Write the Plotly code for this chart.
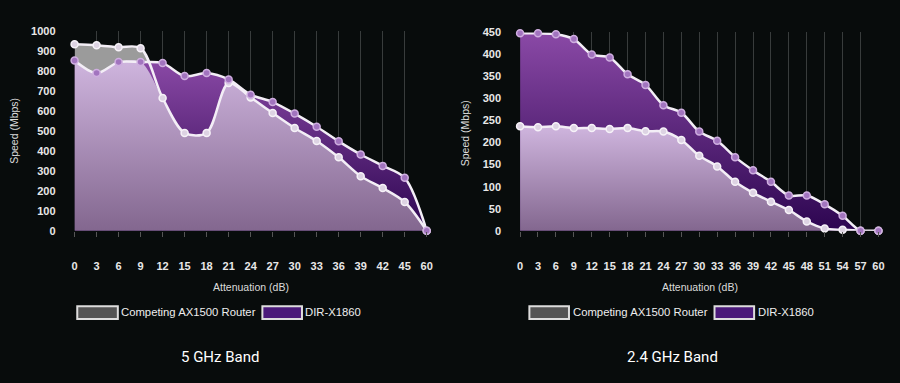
import numpy as np
import plotly.graph_objects as go

# ---------------- data ----------------
x5_labels = ["0", "3", "6", "9", "12", "15", "18", "21", "24", "27", "30", "33", "36", "39", "42", "45", "60"]
comp_5 = [935, 930, 920, 915, 665, 490, 490, 740, 668, 590, 515, 450, 368, 273, 214, 144, 0]
dir_5 = [853, 790, 845, 845, 840, 775, 790, 758, 682, 645, 587, 521, 448, 382, 325, 265, 0]

x24_labels = [str(v) for v in range(0, 61, 3)]
comp_24 = [237, 235, 237, 233, 233, 231, 233, 226, 225, 206, 170, 146, 111, 86, 66, 47, 21, 5, 2, 0, 0]
dir_24 = [448, 448, 446, 435, 400, 393, 355, 331, 285, 268, 225, 204, 167, 137, 111, 80, 80, 60, 34, 0, 0]

series_names = ["Competing AX1500 Router", "DIR-X1860"]
y5_ticks = list(range(0, 1001, 100))
y24_ticks = list(range(0, 451, 50))

# ---------------- style ----------------
BG = "#080c0c"
GRAY_FILL = "#9b9b9b"
PURPLE_SCALE = [[0, "#2c0550"], [1, "#8a49a6"]]
LAV_SCALE = [[0, "#83678f"], [1, "#cfb5de"]]
LINE = "#f3eef6"
SMOOTH = 0.9
H = 383.0


def py(px):
    return 1 - px / H


fig = go.Figure()


def add_chart(xlabels, comp, dirv, xa, ya):
    comp = np.array(comp, dtype=float)
    dirv = np.array(dirv, dtype=float)
    low = np.minimum(comp, dirv)
    common = dict(x=xlabels, xaxis=xa, yaxis=ya, mode="lines", showlegend=False,
                  hoverinfo="skip", line=dict(width=0, shape="spline", smoothing=SMOOTH))
    fig.add_trace(go.Scatter(y=comp, fill="tozeroy", fillcolor=GRAY_FILL, **common))
    fig.add_trace(go.Scatter(y=dirv, fill="tozeroy",
                             fillgradient=dict(type="vertical", colorscale=PURPLE_SCALE), **common))
    fig.add_trace(go.Scatter(y=low, fill="tozeroy",
                             fillgradient=dict(type="vertical", colorscale=LAV_SCALE), **common))
    fig.add_trace(go.Scatter(x=xlabels, y=comp, xaxis=xa, yaxis=ya, mode="lines+markers",
                             name=series_names[0], showlegend=False, cliponaxis=False,
                             line=dict(color=LINE, width=2.5, shape="spline", smoothing=SMOOTH),
                             marker=dict(size=7, color="#ddd3e3", line=dict(color="#f6f2f8", width=1.5))))
    fig.add_trace(go.Scatter(x=xlabels, y=dirv, xaxis=xa, yaxis=ya, mode="lines+markers",
                             name=series_names[1], showlegend=False, cliponaxis=False,
                             line=dict(color=LINE, width=2.5, shape="spline", smoothing=SMOOTH),
                             marker=dict(size=7, color="#a274bf", line=dict(color="#cfaee0", width=1.5))))


add_chart(x5_labels, comp_5, dir_5, "x", "y")
add_chart(x24_labels, comp_24, dir_24, "x2", "y2")

tickfont = dict(family="Liberation Sans, Arial, sans-serif", size=11, color="#e8e8e8", weight="bold")
xcommon = dict(type="category", showgrid=True, gridcolor="#383c3c", gridwidth=1, zeroline=False,
               ticks="outside", ticklen=5, tickcolor="#555", tickwidth=1, showline=False,
               tickfont=tickfont, ticklabelstandoff=20, fixedrange=True)
ycommon = dict(showgrid=False, zeroline=False, showline=False, ticks="", tickfont=tickfont,
               ticklabelstandoff=18, fixedrange=True)

fig.update_layout(
    width=900, height=383,
    margin=dict(l=0, r=0, t=0, b=0),
    paper_bgcolor=BG, plot_bgcolor=BG,
    showlegend=False,
    xaxis=dict(domain=[72.3 / 900, 428 / 900], range=[0, len(x5_labels) - 1],
               anchor="y", **xcommon),
    yaxis=dict(domain=[py(232), py(26)], range=[0, 1000], tickvals=y5_ticks,
               anchor="x", **ycommon),
    xaxis2=dict(domain=[522.3 / 900, 884.3 / 900], range=[0, len(x24_labels) - 1],
                anchor="y2", **xcommon),
    yaxis2=dict(domain=[py(232), py(27.3)], range=[0, 450], tickvals=y24_ticks,
                anchor="x2", **ycommon),
)

ann_font = dict(family="Liberation Sans, Arial, sans-serif", size=10.5, color="#dcdcdc")
leg_font = dict(family="Liberation Sans, Arial, sans-serif", size=11.3, color="#eeeeee")
title_font = dict(family="Roboto, sans-serif", size=15, color="#ffffff")

annotations = []
shapes = []
charts = [
    dict(xc=250, ylab=(11, 129), sub="5 GHz Band", subx=219,
         boxes=[(75, 116, 117), (262, 302, 303)]),
    dict(xc=704, ylab=(467, 131), sub="2.4 GHz Band", subx=676,
         boxes=[(531.7, 571.7, 573.5), (718.7, 758.7, 760.3)]),
]
fills = ["#545454", "#4b1a7a"]
for c in charts:
    annotations.append(dict(text="Attenuation (dB)", x=c["xc"] / 900, y=py(290), xref="paper", yref="paper",
                            showarrow=False, font=ann_font, xanchor="center", yanchor="middle"))
    annotations.append(dict(text="Speed (Mbps)", x=c["ylab"][0] / 900, y=py(c["ylab"][1]), xref="paper",
                            yref="paper", showarrow=False, font=ann_font, textangle=-90,
                            xanchor="center", yanchor="middle"))
    annotations.append(dict(text=c["sub"], x=c["subx"] / 900, y=py(362), xref="paper", yref="paper",
                            showarrow=False, font=title_font, xanchor="center", yanchor="middle"))
    for (x0, x1, tx), name, fc in zip(c["boxes"], series_names, fills):
        shapes.append(dict(type="rect", xref="paper", yref="paper", x0=x0 / 900, x1=x1 / 900,
                           y0=py(323), y1=py(310), fillcolor=fc, line=dict(color="#dddddd", width=2)))
        annotations.append(dict(text=name, x=tx / 900, y=py(316), xref="paper", yref="paper",
                                showarrow=False, font=leg_font, xanchor="left", yanchor="middle"))

fig.update_layout(annotations=annotations, shapes=shapes)
fig.write_html("out.html", config={"displayModeBar": False},
               post_script="document.body.style.margin='0';document.body.style.overflow='hidden';"
                           "document.body.style.background='" + BG + "';")
